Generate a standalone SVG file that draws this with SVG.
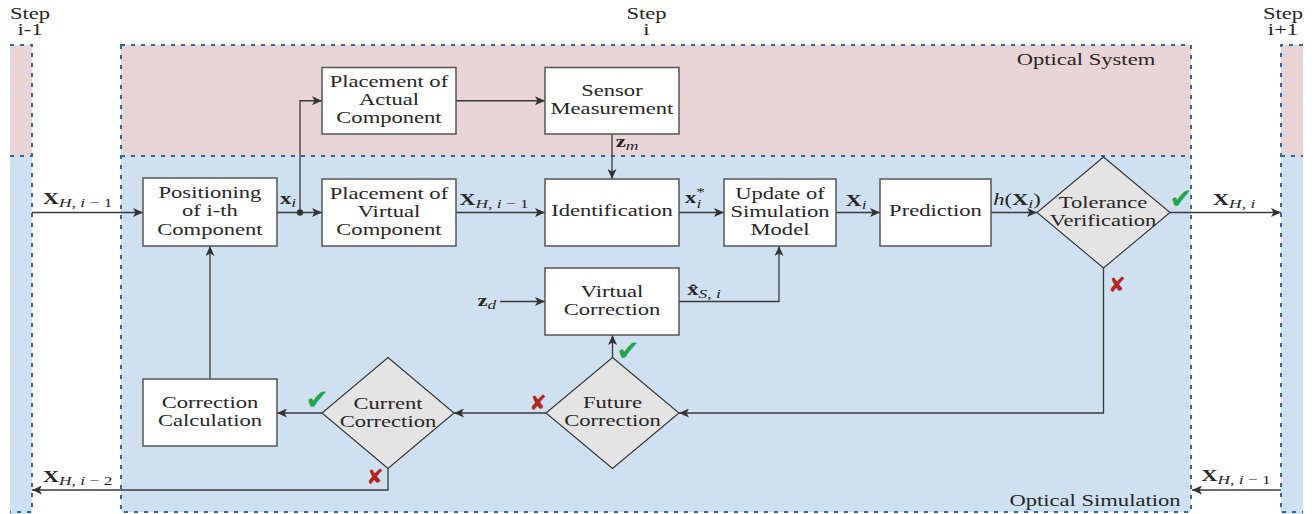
<svg xmlns="http://www.w3.org/2000/svg" width="1315" height="514" viewBox="0 0 1315 514">
<defs>
<marker id="ah" markerUnits="userSpaceOnUse" markerWidth="11" markerHeight="9" refX="10" refY="4.5" orient="auto"><path d="M0,0 L10,4.5 L0,9 L2.5,4.5 Z" fill="#333"/></marker>
<style>
.t{font-family:"Liberation Serif",serif;font-size:17.5px;fill:#262626;text-anchor:middle;transform:scaleX(1.29);transform-box:fill-box;transform-origin:50% 50%}
.box{fill:#fff;stroke:#555;stroke-width:1.5}
.dia{fill:#e4e4e4;stroke:#333;stroke-width:1.1}
.ln{fill:none;stroke:#3a3a3a;stroke-width:1.3}
.arr{marker-end:url(#ah)}
.dash{fill:none;stroke:#2f67a6;stroke-width:2;stroke-dasharray:4 6}
.pink{fill:#e9d5d5}
.blue{fill:#cfe1f0}
.b{font-weight:bold}
.s{font-size:13.5px}
.it{font-style:italic}
.ok{font-family:"DejaVu Sans",sans-serif;font-size:28px;fill:#1fa64a;text-anchor:middle}
.no{font-family:"DejaVu Sans",sans-serif;font-size:21px;fill:#b3261e;text-anchor:middle}
</style>
</defs>

<g id="background">
  <rect class="pink" x="10" y="45" width="22" height="111"/>
  <rect class="blue" x="10" y="156" width="22" height="358"/>
  <rect class="pink" x="121" y="45" width="1070" height="111"/>
  <rect class="blue" x="121" y="156" width="1070" height="356"/>
  <rect class="pink" x="1281" y="45" width="22" height="111"/>
  <rect class="blue" x="1281" y="156" width="22" height="358"/>
  <path class="dash" d="M10,45 H32 V512 H10 M10,156 H32"/>
  <path class="dash" d="M121,45 H1191 V512 H121 Z M121,156 H1191"/>
  <path class="dash" d="M1303,45 H1281 V512 H1303 M1281,156 H1303"/>
  <text class="t" x="30" y="19">Step</text>
  <text class="t" x="30" y="35.5">i-1</text>
  <text class="t" x="646.5" y="19">Step</text>
  <text class="t" x="646.5" y="35.5">i</text>
  <text class="t" x="1283" y="19">Step</text>
  <text class="t" x="1283" y="35.5">i+1</text>
  <text class="t" x="1086" y="65">Optical System</text>
  <text class="t" x="1095" y="506">Optical Simulation</text>
</g>

<g id="connectors">
  <path class="ln arr" d="M32,212.5 H143"/>
  <path class="ln arr" d="M277,212.5 H322"/>
  <path class="ln arr" d="M300,212.5 V100.75 H322"/>
  <circle cx="300" cy="212.5" r="3.2" fill="#333"/>
  <path class="ln arr" d="M456,100.75 H545"/>
  <path class="ln arr" d="M612,134 V179"/>
  <path class="ln arr" d="M456,212.5 H545"/>
  <path class="ln arr" d="M679,212.5 H724"/>
  <path class="ln arr" d="M836,212.5 H880"/>
  <path class="ln arr" d="M991,212.5 H1037"/>
  <path class="ln arr" d="M1170,212.5 H1281"/>
  <path class="ln arr" d="M1103.5,268 V413 H679"/>
  <path class="ln arr" d="M612.5,357.5 V335"/>
  <path class="ln arr" d="M500,301.5 H545"/>
  <path class="ln arr" d="M679,301.5 H779 V246"/>
  <path class="ln arr" d="M546,413 H454"/>
  <path class="ln arr" d="M322,413 H277"/>
  <path class="ln arr" d="M210,379 V246"/>
  <path class="ln arr" d="M388,468.5 V490 H32"/>
  <path class="ln arr" d="M1281,490 H1192"/>

  <text class="t" x="77.5" y="204"><tspan class="b">X</tspan><tspan class="s" dy="3.5"><tspan class="it">H</tspan>, <tspan class="it">i</tspan> − 1</tspan></text>
  <text class="t" x="288" y="204"><tspan class="b">x</tspan><tspan class="s it" dy="3.5">i</tspan></text>
  <text class="t" x="494" y="205"><tspan class="b">X</tspan><tspan class="s" dy="3.5"><tspan class="it">H</tspan>, <tspan class="it">i</tspan> − 1</tspan></text>
  <text class="t" x="627" y="147"><tspan class="b">z</tspan><tspan class="s it" dy="3.5">m</tspan></text>
  <text class="t" x="695" y="203"><tspan class="b">x</tspan><tspan class="s" dy="-7">*</tspan><tspan class="s it" dx="-6.5" dy="12.5">i</tspan></text>
  <text class="t" x="856" y="206"><tspan class="b">X</tspan><tspan class="s it" dy="3.5">i</tspan></text>
  <text class="t" x="1017" y="205"><tspan class="it">h</tspan>(<tspan class="b">X</tspan><tspan class="s it" dy="3.5">i</tspan><tspan dy="-3.5">)</tspan></text>
  <text class="t" x="1234" y="205"><tspan class="b">X</tspan><tspan class="s" dy="3.5"><tspan class="it">H</tspan>, <tspan class="it">i</tspan></tspan></text>
  <text class="t" x="487" y="306"><tspan class="b">z</tspan><tspan class="s it" dy="3.5">d</tspan></text>
  <text class="t" x="704" y="295"><tspan class="b">x̂</tspan><tspan class="s" dy="3.5"><tspan class="it">S</tspan>, <tspan class="it">i</tspan></tspan></text>
  <text class="t" x="77.5" y="482"><tspan class="b">X</tspan><tspan class="s" dy="3.5"><tspan class="it">H</tspan>, <tspan class="it">i</tspan> − 2</tspan></text>
  <text class="t" x="1236" y="481"><tspan class="b">X</tspan><tspan class="s" dy="3.5"><tspan class="it">H</tspan>, <tspan class="it">i</tspan> − 1</tspan></text>

  <text class="ok" x="1181" y="208">✔</text>
  <text class="ok" x="628" y="360">✔</text>
  <text class="ok" x="317" y="409">✔</text>
  <text class="no" x="1117" y="292">✘</text>
  <text class="no" x="538" y="410">✘</text>
  <text class="no" x="375" y="484">✘</text>
</g>

<g id="n-positioning">
  <rect class="box" x="143" y="178" width="134" height="68"/>
  <text class="t"><tspan x="210" y="198.5">Positioning</tspan><tspan x="210" y="216.5">of i-th</tspan><tspan x="210" y="234.7">Component</tspan></text>
</g>
<g id="n-actual">
  <rect class="box" x="322" y="67.5" width="134" height="66.5"/>
  <text class="t"><tspan x="389" y="87.3">Placement of</tspan><tspan x="389" y="105.3">Actual</tspan><tspan x="389" y="123.4">Component</tspan></text>
</g>
<g id="n-sensor">
  <rect class="box" x="545" y="67.5" width="134" height="66.5"/>
  <text class="t"><tspan x="612" y="96.3">Sensor</tspan><tspan x="612" y="114.3">Measurement</tspan></text>
</g>
<g id="n-virtual-placement">
  <rect class="box" x="322" y="179" width="134" height="67"/>
  <text class="t"><tspan x="389" y="199">Placement of</tspan><tspan x="389" y="217">Virtual</tspan><tspan x="389" y="235.2">Component</tspan></text>
</g>
<g id="n-identification">
  <rect class="box" x="545" y="179" width="134" height="67"/>
  <text class="t" x="612" y="216.5">Identification</text>
</g>
<g id="n-update">
  <rect class="box" x="724" y="179" width="112" height="67"/>
  <text class="t"><tspan x="780" y="199">Update of</tspan><tspan x="780" y="217">Simulation</tspan><tspan x="780" y="235.2">Model</tspan></text>
</g>
<g id="n-prediction">
  <rect class="box" x="880" y="179" width="111" height="67"/>
  <text class="t" x="935.5" y="216.5">Prediction</text>
</g>
<g id="n-tolerance">
  <polygon class="dia" points="1103.5,157 1170,212.5 1103.5,268 1037,212.5"/>
  <text class="t"><tspan x="1103" y="208">Tolerance</tspan><tspan x="1103" y="226">Verification</tspan></text>
</g>
<g id="n-virtual-correction">
  <rect class="box" x="545" y="268" width="134" height="67"/>
  <text class="t"><tspan x="612" y="297">Virtual</tspan><tspan x="612" y="315">Correction</tspan></text>
</g>
<g id="n-future">
  <polygon class="dia" points="612.5,357.5 679,413 612.5,468.5 546,413"/>
  <text class="t"><tspan x="612.5" y="408.5">Future</tspan><tspan x="612.5" y="426.5">Correction</tspan></text>
</g>
<g id="n-current">
  <polygon class="dia" points="388,357.5 454,413 388,468.5 322,413"/>
  <text class="t"><tspan x="388" y="409">Current</tspan><tspan x="388" y="427">Correction</tspan></text>
</g>
<g id="n-correction-calc">
  <rect class="box" x="143" y="379" width="134" height="67"/>
  <text class="t"><tspan x="210" y="408">Correction</tspan><tspan x="210" y="426">Calculation</tspan></text>
</g>
</svg>
